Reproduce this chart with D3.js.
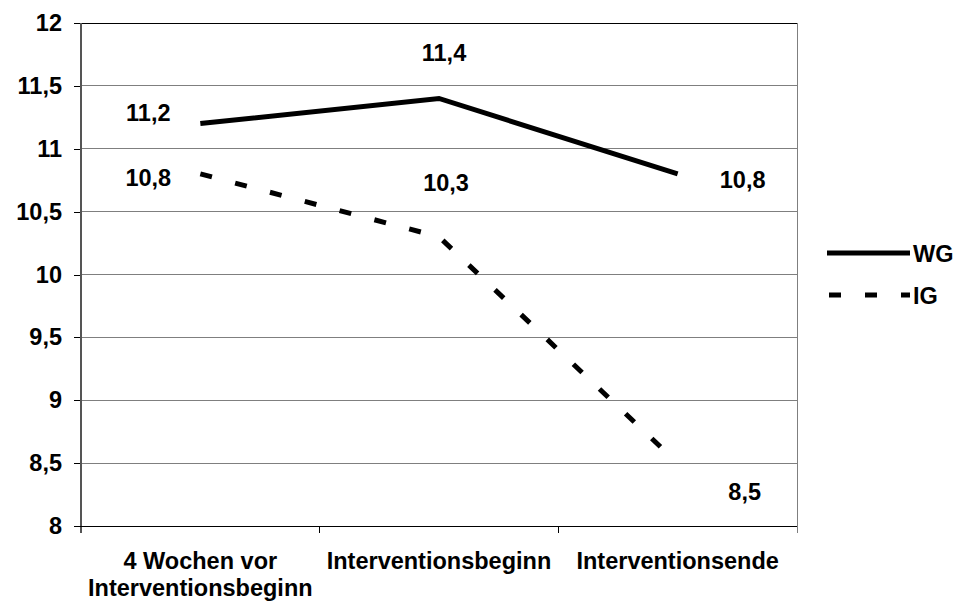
<!DOCTYPE html>
<html>
<head>
<meta charset="utf-8">
<script src="https://cdn.jsdelivr.net/npm/d3@7"></script>
<style>
  html, body { margin: 0; padding: 0; background: #fff; }
  svg { display: block; }
  text { font-family: "Liberation Sans", Arial, sans-serif; font-weight: bold; fill: #000; }
</style>
</head>
<body>
<svg id="chart" width="962" height="605"></svg>
<script>
// Measurement points (x axis categories, each may span several lines)
const categories = [
  ["4 Wochen vor", "Interventionsbeginn"],
  ["Interventionsbeginn"],
  ["Interventionsende"]
];
// Series values
const wgValues = [11.2, 11.4, 10.8];
const igValues = [10.8, 10.3, 8.5];
// Y axis ticks
const yTicks = [8, 8.5, 9, 9.5, 10, 10.5, 11, 11.5, 12];

const series = [
  { name: "WG", values: wgValues, dash: null },
  { name: "IG", values: igValues, dash: "12,24" }
];

// Label offsets (px) relative to each point, per series
const labelOffsets = {
  WG: [[-52, -11], [5, -45], [65, 6]],
  IG: [[-52, 4], [7, -54], [67, 29]]
};

const FS = 23.5;

const svg = d3.select("#chart");
const plot = { left: 81, right: 797, top: 23, bottom: 526 };

const x = d3.scaleBand()
  .domain(categories.map((c, i) => i))
  .range([plot.left, plot.right])
  .paddingInner(0).paddingOuter(0);
const xc = i => x(i) + x.bandwidth() / 2;

const y = d3.scaleLinear().domain([8, 12]).range([plot.bottom, plot.top]);

const fmt = v => d3.format(".1f")(v).replace(".", ",");
const fmtTick = v => (Number.isInteger(v) ? String(v) : String(v).replace(".", ","));

// Horizontal gridlines
svg.append("g").selectAll("line")
  .data(yTicks.filter(t => t !== 8 && t !== 12))
  .join("line")
  .attr("x1", plot.left).attr("x2", plot.right)
  .attr("y1", d => y(d)).attr("y2", d => y(d))
  .attr("stroke", "#7f7f7f").attr("stroke-width", 1)
  .attr("shape-rendering", "crispEdges");

// Top gridline
svg.append("line")
  .attr("x1", plot.left).attr("x2", plot.right)
  .attr("y1", y(12)).attr("y2", y(12))
  .attr("stroke", "#000").attr("stroke-width", 1)
  .attr("shape-rendering", "crispEdges");

// Right border
svg.append("line")
  .attr("x1", plot.right).attr("x2", plot.right)
  .attr("y1", plot.top).attr("y2", plot.bottom + 7)
  .attr("stroke", "#7f7f7f").attr("stroke-width", 1)
  .attr("shape-rendering", "crispEdges");

// Y axis
const yAxis = d3.axisLeft(y).tickValues(yTicks).tickFormat(fmtTick).tickSize(7).tickPadding(12);
const gy = svg.append("g").attr("transform", `translate(${plot.left},0)`).call(yAxis);
gy.select(".domain").remove();
gy.selectAll(".tick line").attr("stroke", "#000").attr("shape-rendering", "crispEdges");
gy.selectAll(".tick text").attr("font-size", FS).attr("font-weight", "bold")
  .attr("font-family", "Liberation Sans, Arial, sans-serif").attr("fill", "#000");
svg.append("line")
  .attr("x1", plot.left).attr("x2", plot.left)
  .attr("y1", plot.top).attr("y2", plot.bottom + 7)
  .attr("stroke", "#555").attr("stroke-width", 2)
  .attr("shape-rendering", "crispEdges");

// X axis baseline and boundary ticks
svg.append("line")
  .attr("x1", plot.left - 7).attr("x2", plot.right)
  .attr("y1", plot.bottom).attr("y2", plot.bottom)
  .attr("stroke", "#000").attr("stroke-width", 1)
  .attr("shape-rendering", "crispEdges");
svg.append("g").selectAll("line")
  .data(categories.map((c, i) => i).slice(1))
  .join("line")
  .attr("x1", d => x(d)).attr("x2", d => x(d))
  .attr("y1", plot.bottom).attr("y2", plot.bottom + 7)
  .attr("stroke", "#000").attr("shape-rendering", "crispEdges");

// Category labels
const catG = svg.append("g");
categories.forEach((lines, i) => {
  const t = catG.append("text")
    .attr("text-anchor", "middle")
    .attr("font-size", FS)
    .attr("x", xc(i)).attr("y", 569);
  lines.forEach((ln, j) => {
    t.append("tspan").attr("x", xc(i)).attr("dy", j === 0 ? 0 : 27).text(ln);
  });
});

// Lines
const line = d3.line().x((d, i) => xc(i)).y(d => y(d));
svg.append("g").selectAll("path")
  .data(series)
  .join("path")
  .attr("d", s => line(s.values))
  .attr("fill", "none")
  .attr("stroke", "#000")
  .attr("stroke-width", 5)
  .attr("stroke-linejoin", "miter")
  .attr("stroke-dasharray", s => s.dash);

// Value labels
series.forEach(s => {
  svg.append("g").selectAll("text")
    .data(s.values)
    .join("text")
    .attr("text-anchor", "middle")
    .attr("dominant-baseline", "central")
    .attr("font-size", FS)
    .attr("x", (d, i) => xc(i) + labelOffsets[s.name][i][0])
    .attr("y", (d, i) => y(d) + labelOffsets[s.name][i][1])
    .text(d => fmt(d));
});

// Legend
const legend = svg.append("g");
const legendY = [253, 295];
series.forEach((s, i) => {
  legend.append("line")
    .attr("x1", 827).attr("x2", 910)
    .attr("y1", legendY[i]).attr("y2", legendY[i])
    .attr("stroke", "#000").attr("stroke-width", 5)
    .attr("stroke-dasharray", s.dash ? "12,24" : null)
    .attr("stroke-dashoffset", s.dash ? -2 : null);
  legend.append("text")
    .attr("x", 913).attr("y", legendY[i] + 1)
    .attr("dominant-baseline", "central")
    .attr("font-size", FS)
    .text(s.name);
});
</script>
</body>
</html>
